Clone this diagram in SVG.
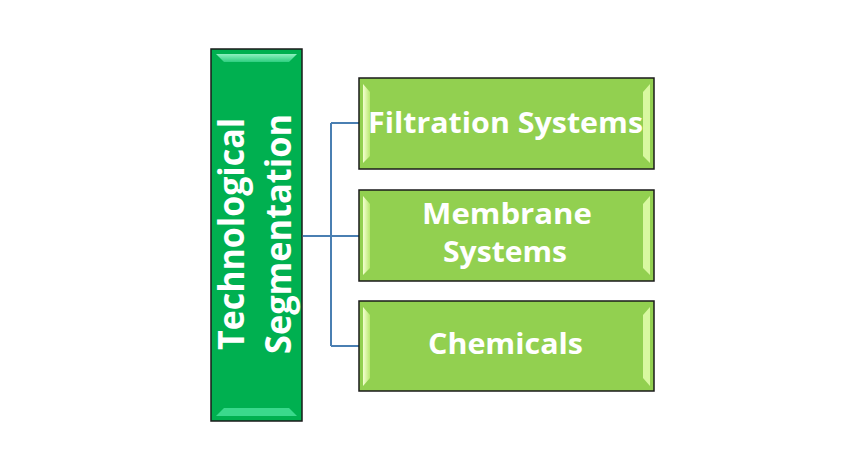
<svg xmlns="http://www.w3.org/2000/svg" width="864" height="470" viewBox="0 0 864 470">
<defs>
<style>
.main{fill:#00B050;stroke:#1a1a1a;stroke-width:1.5}
.sub{fill:#92D050;stroke:#1a1a1a;stroke-width:1.5}
.t{font-family:"Open Sans","Liberation Sans",sans-serif;font-weight:700;fill:#fff;text-anchor:middle;font-variant-ligatures:none}
.tv{font-size:35px}
.ts{font-size:29px}
.conn{fill:none;stroke:#4a7fb2;stroke-width:2}
</style>
<linearGradient id="gTop" x1="0" y1="0" x2="0" y2="1">
<stop offset="0" stop-color="#8ff0c0"/><stop offset="1" stop-color="#2ecf80"/>
</linearGradient>
<linearGradient id="gSide" x1="0" y1="0" x2="1" y2="0">
<stop offset="0" stop-color="#f4ffd0"/><stop offset="1" stop-color="#b8e870"/>
</linearGradient>
</defs>
<rect width="864" height="470" fill="#fff"/>
<g id="connectors">
<path class="conn" d="M303 236H331M331 123V346M331 123H359M331 236H359M331 346H359"/>
</g>
<g id="main-node">
<rect class="main" x="211" y="49" width="91" height="372"/>
<polygon points="216,54 297,54 289,62 224,62" fill="url(#gTop)"/>
<polygon points="224,408 289,408 297,416 216,416" fill="#3ad98c"/>
<text class="t tv" transform="translate(257,234) rotate(-90)"><tspan x="0" y="-13" textLength="232" lengthAdjust="spacingAndGlyphs">Technological</tspan><tspan x="0" y="34" textLength="240" lengthAdjust="spacingAndGlyphs">Segmentation</tspan></text>
</g>
<g id="node-filtration">
<rect class="sub" x="359" y="78" width="295" height="91"/>
<polygon points="363,84 370,92 370,156 363,163" fill="url(#gSide)"/>
<polygon points="650,84 643,92 643,156 650,163" fill="#d8f8a0"/>
<text class="t ts" x="505.5" y="133" textLength="275" lengthAdjust="spacingAndGlyphs">Filtration Systems</text>
</g>
<g id="node-membrane">
<rect class="sub" x="359" y="190" width="295" height="91"/>
<polygon points="363,196 370,204 370,268 363,275" fill="url(#gSide)"/>
<polygon points="650,196 643,204 643,268 650,275" fill="#d8f8a0"/>
<text class="t ts"><tspan x="507" y="224" textLength="170" lengthAdjust="spacingAndGlyphs">Membrane</tspan><tspan x="505" y="262" textLength="124" lengthAdjust="spacingAndGlyphs">Systems</tspan></text>
</g>
<g id="node-chemicals">
<rect class="sub" x="359" y="301" width="295" height="90"/>
<polygon points="363,307 370,315 370,378 363,386" fill="url(#gSide)"/>
<polygon points="650,307 643,315 643,378 650,386" fill="#d8f8a0"/>
<text class="t ts" x="505.5" y="354" textLength="155" lengthAdjust="spacingAndGlyphs">Chemicals</text>
</g>
</svg>
